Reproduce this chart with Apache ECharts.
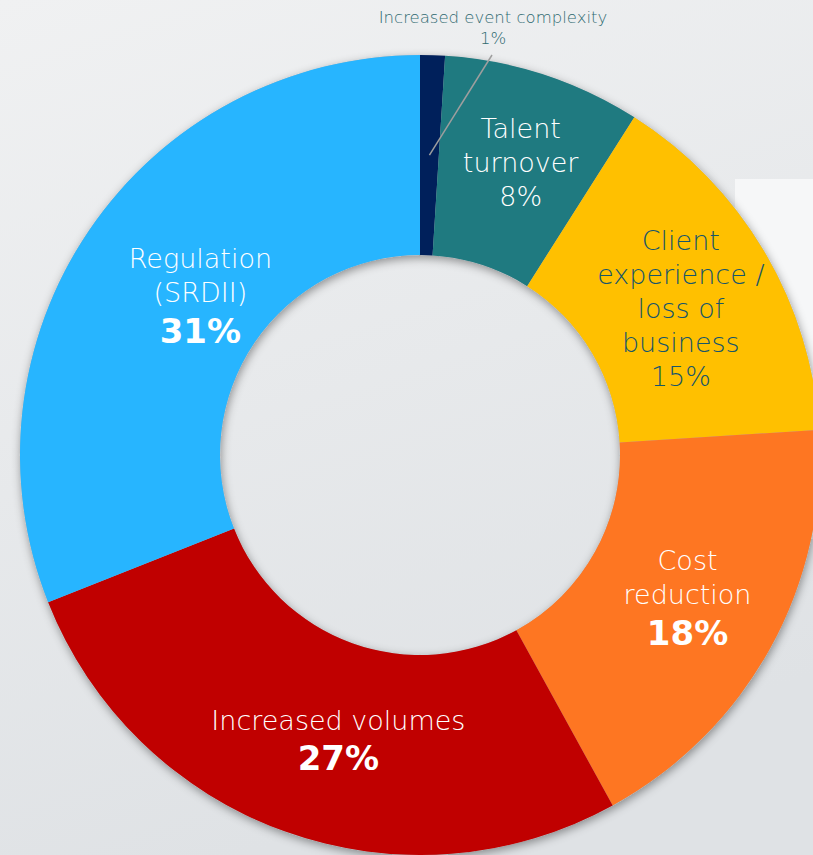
<!DOCTYPE html>
<html><head><meta charset="utf-8">
<script src="https://cdn.jsdelivr.net/npm/echarts@6/dist/echarts.min.js"></script>
<style>html,body{margin:0;padding:0;overflow:hidden;} #c{width:813px;height:855px;}</style>
</head><body><div id="c"></div>
<script>
// ---- data ----
const categories = ['Increased event complexity', 'Talent turnover', 'Client experience / loss of business', 'Cost reduction', 'Increased volumes', 'Regulation (SRDII)'];
const values = [1, 8, 15, 18, 27, 31];
const labelTexts = ['Increased event complexity', 'Talent\nturnover', 'Client\nexperience /\nloss of\nbusiness', 'Cost\nreduction', 'Increased volumes', 'Regulation\n(SRDII)'];
// ---- styles ----
const colors = ['#00205B', '#1F7A80', '#FFC000', '#FE7622', '#C00000', '#27B5FF'];
const labelColors = ['#2F6A70', '#FFFFFF', '#17566A', '#FFFFFF', '#FFFFFF', '#FFFFFF'];
const boldPct = [false, false, false, true, true, true];
const labelShift = [[0, 0], [7, -4], [0, 8], [2, -2], [21, 1], [31, 12]];
const FONT = "'DejaVu Sans', 'Noto Sans', sans-serif";
const CX = 420, CY = 455, R0 = 200, R1 = 400;

const total = values.reduce((a, b) => a + b, 0);

const mainData = categories.map((name, i) => {
  const item = { name: name, value: values[i], itemStyle: { color: colors[i] } };
  if (i === 0) {
    item.label = { show: false };
  } else {
    const lines = labelTexts[i].split('\n').map(l => '{n|' + l + '}').join('\n');
    const pct = boldPct[i] ? '{b|' + values[i] + '%}' : '{n|' + values[i] + '%}';
    item.label = {
      show: true,
      position: 'inside',
      formatter: lines + '\n' + pct,
      rich: {
        n: { fontFamily: FONT, fontSize: 27, fontWeight: 200, lineHeight: 34, color: labelColors[i], align: 'center' },
        b: { fontFamily: FONT, fontSize: 34, fontWeight: 'bold', lineHeight: 42, color: labelColors[i], align: 'center' }
      }
    };
  }
  item.labelLine = { show: false };
  return item;
});

// overlay copy (transparent sectors) that carries the small-slice callout above all sectors
const overlayData = categories.map((name, i) => {
  const item = { name: name, value: values[i], itemStyle: { color: 'rgba(0,0,0,0)' } };
  if (i === 0) {
    item.label = {
      show: true,
      position: 'outside',
      formatter: '{s|' + labelTexts[i] + '}\n{s|' + values[i] + '%}',
      rich: { s: { fontFamily: FONT, fontSize: 16.5, fontWeight: 200, lineHeight: 21, color: labelColors[i], align: 'center' } }
    };
    item.labelLine = { show: true, lineStyle: { color: '#9E9E9E', width: 1.5 } };
  } else {
    item.label = { show: false };
    item.labelLine = { show: false };
  }
  return item;
});

const chart = echarts.init(document.getElementById('c'), null, { renderer: 'svg' });
chart.setOption({
  animation: false,
  backgroundColor: {
    type: 'linear', x: 0, y: 0, x2: 0.3, y2: 1,
    colorStops: [{ offset: 0, color: '#F0F1F2' }, { offset: 1, color: '#DFE2E5' }]
  },
  graphic: [{
    type: 'rect', z: -10, silent: true,
    shape: { x: 735, y: 179, width: 80, height: 360 },
    style: { fill: '#F6F7F8' }
  }],
  series: [{
    // shadow under-layer: one full ring, total of all values
    type: 'pie', silent: true, z: 1,
    center: [CX, CY], radius: [R0, R1], startAngle: 90,
    label: { show: false }, labelLine: { show: false },
    emphasis: { disabled: true },
    itemStyle: { color: '#B0B4B8', shadowBlur: 10, shadowColor: 'rgba(0,0,0,0.4)', shadowOffsetX: 1, shadowOffsetY: 3 },
    data: [{ name: 'all', value: total }]
  }, {
    type: 'pie', z: 2,
    center: [CX, CY],
    radius: [R0, R1],
    startAngle: 90,
    clockwise: true,
    avoidLabelOverlap: false,
    emphasis: { disabled: true },
    labelLayout: function (p) {
      const i = p.dataIndex;
      return { dx: labelShift[i][0], dy: labelShift[i][1] };
    },
    data: mainData
  }, {
    type: 'pie', z: 3, silent: true,
    center: [CX, CY],
    radius: [R0, R1],
    startAngle: 90,
    clockwise: true,
    avoidLabelOverlap: false,
    emphasis: { disabled: true },
    labelLayout: function (p) {
      if (p.dataIndex !== 0) return {};
      const mid = (values[0] / 2) / total * 2 * Math.PI;
      const sx = CX + (R0 + R1) / 2 * Math.sin(mid);
      const sy = CY - (R0 + R1) / 2 * Math.cos(mid);
      return {
        x: 493, y: 28, align: 'center', verticalAlign: 'middle',
        labelLinePoints: [[sx, sy], [492, 55], [492, 55]]
      };
    },
    data: overlayData
  }]
});
</script>
</body></html>
